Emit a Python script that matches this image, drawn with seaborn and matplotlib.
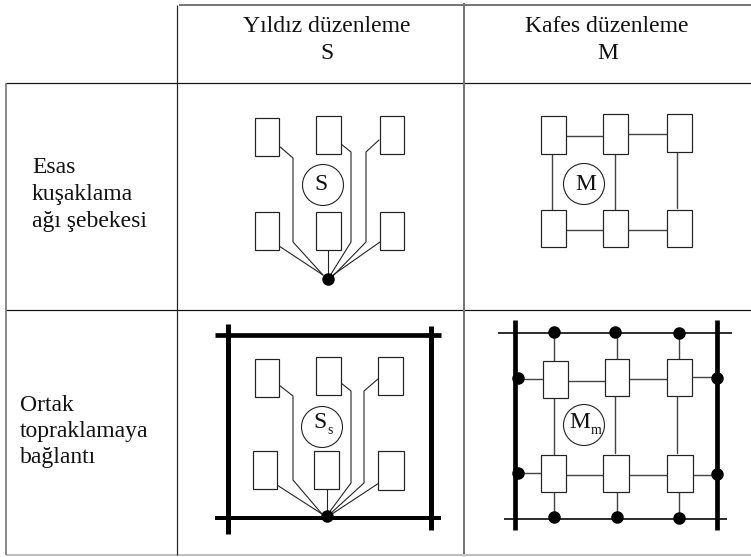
import matplotlib
matplotlib.use("Agg")
import matplotlib.pyplot as plt
from matplotlib.patches import Circle, Rectangle
import pandas as pd
import seaborn as sns

# =========================================================
# TABLE TEXT (text, x, baseline y)
# =========================================================

header_labels = [("Yıldız düzenleme", 327, 32), ("S", 327, 59),
                 ("Kafes düzenleme", 607, 32), ("M", 608, 59)]
row_labels = [("Esas", 32, 173), ("kuşaklama", 32, 200), ("ağı şebekesi", 32, 227),
              ("Ortak", 20, 411), ("topraklamaya", 20, 437), ("bağlantı", 20, 463)]

# table rules: x0, y0, x1, y1, colour, width px
table_rules = [
    (179, 5, 751, 5, "#777777", 2),
    (6, 83, 751, 83, "#111111", 1.2),
    (6, 310, 751, 310, "#111111", 1.2),
    (6, 555, 751, 555, "#aaaaaa", 1.5),
    (6, 83, 6, 555, "#666666", 1.5),
    (177, 5, 177, 555, "#222222", 1.2),
    (464, 3, 464, 554, "#777777", 2),
]

# =========================================================
# BOXES (x0, x1, y0, y1)
# =========================================================

boxes_s = [(255, 279, 118, 156), (316, 341, 116, 154), (380, 404, 116, 154),
           (255, 279, 212, 250), (316, 341, 212, 250), (380, 404, 212, 250)]
boxes_m = [(541, 566, 116, 154), (603, 628, 114, 154), (667, 692, 114, 152),
           (541, 566, 210, 247), (603, 628, 210, 247), (667, 692, 210, 247)]
boxes_ss = [(255, 279, 359, 397), (316, 341, 357, 395), (378, 403, 357, 395),
            (253, 277, 451, 489), (314, 339, 451, 489), (378, 404, 451, 490)]
boxes_mm = [(543, 568, 361, 398), (605, 629, 359, 396), (667, 692, 359, 396),
            (541, 566, 455, 492), (603, 629, 455, 492), (667, 693, 455, 492)]

# =========================================================
# WIRES (polylines)
# =========================================================

wires_s = [
    [(279, 146), (293, 158), (293, 242), (323, 275)],
    [(341, 144), (351, 152), (351, 242), (328, 279)],
    [(379, 140), (366, 152), (366, 242), (330, 279)],
    [(279, 246), (323, 275)],
    [(328, 248), (328, 279)],
    [(380, 242), (333, 275)],
]
wires_m = [
    [(566, 136), (605, 136)], [(628, 134), (667, 134)],
    [(552, 154), (552, 210)], [(615, 154), (615, 210)], [(677, 152), (677, 208)],
    [(564, 230), (603, 230)], [(628, 230), (667, 230)],
]
wires_ss = [
    [(279, 385), (293, 396), (293, 480), (322, 514)],
    [(341, 383), (351, 391), (351, 483), (328, 514)],
    [(378, 379), (364, 391), (364, 483), (330, 514)],
    [(277, 485), (322, 514)],
    [(327, 489), (327, 514)],
    [(379, 483), (332, 514)],
]
wires_mm = [
    [(554, 333), (554, 361)], [(617, 333), (617, 359)], [(679, 333), (679, 359)],
    [(518, 379), (542, 379)], [(568, 381), (605, 381)], [(629, 379), (667, 379)], [(693, 377), (717, 377)],
    [(554, 398), (554, 455)], [(615, 396), (615, 453)], [(677, 396), (677, 453)],
    [(518, 473), (541, 473)], [(566, 475), (605, 475)], [(629, 475), (669, 475)], [(693, 475), (717, 475)],
    [(554, 492), (554, 517)], [(617, 492), (617, 517)], [(679, 492), (679, 517)],
]

# =========================================================
# EARTH BARS (x0, y0, x1, y1, width px)
# =========================================================

bars_ss = [(215, 335, 441, 335, 4.7), (215, 518, 441, 518, 4), (228, 324, 228, 534, 5), (431, 326, 431, 530, 5)]
bars_mm = [(498, 333, 732, 333, 1.6), (504, 519, 727, 519, 1.6), (515, 320, 515, 530, 4.7), (717, 320, 717, 530, 4.7)]

# =========================================================
# JUNCTION DOTS AND CIRCLES
# =========================================================

dots_x = [328, 327, 554, 615, 679, 518, 518, 717, 717, 554, 617, 679]
dots_y = [279, 516, 332, 332, 333, 378, 473, 378, 474, 517, 517, 518]

circles = [(323, 185), (584, 184), (322, 427), (584, 425)]

# letter, x, y, font size
circle_labels = [("S", 321, 185, 17), ("M", 586, 184, 17), ("S", 320, 423, 17), ("s", 330, 431, 10),
                 ("M", 580, 423, 17), ("m", 596, 430, 10)]

# =========================================================
# FIGURE
# =========================================================

sns.set_theme(style="white")
plt.rcParams["font.family"] = ["Liberation Serif", "DejaVu Serif"]

px = 72 / 100
fig, ax = plt.subplots(figsize=(7.51, 5.57), dpi=100)
ax.set_position([0, 0, 1, 1])

# wires go through seaborn as polylines with one unit per wire
rows = []
for group, wires in [("plain", wires_s + wires_ss), ("grid", wires_m + wires_mm)]:
    for i, wire in enumerate(wires):
        for order, (x, y) in enumerate(wire):
            rows.append({"wire": f"{group}{i}", "group": group, "order": order, "x": x, "y": y})
wire_df = pd.DataFrame(rows)

sns.lineplot(data=wire_df[wire_df["group"] == "plain"], x="x", y="y", units="wire", estimator=None, sort=False,
             color="#222222", linewidth=1.1 * px, ax=ax, zorder=2)
sns.lineplot(data=wire_df[wire_df["group"] == "grid"], x="x", y="y", units="wire", estimator=None, sort=False,
             color="#444444", linewidth=1.4 * px, ax=ax, zorder=2)

for x0, y0, x1, y1, c, w in table_rules:
    ax.plot([x0, x1], [y0, y1], color=c, lw=w * px, solid_capstyle="butt", zorder=1)

for x0, y0, x1, y1, w in bars_ss + bars_mm:
    ax.plot([x0, x1], [y0, y1], color="black", lw=w * px, solid_capstyle="butt", zorder=3)

for x0, x1, y0, y1 in boxes_s + boxes_m + boxes_ss + boxes_mm:
    ax.add_patch(Rectangle((x0, y0), x1 - x0, y1 - y0, fc="white", ec="#222222", lw=1.2 * px, zorder=4))

sns.scatterplot(x=dots_x, y=dots_y, s=(12.5 * px) ** 2, color="black", linewidth=0, ax=ax, zorder=5)

for cx, cy in circles:
    ax.add_patch(Circle((cx, cy), 20.5, fc="white", ec="#222222", lw=1.1 * px, zorder=4))

for text, x, y, size in circle_labels:
    ax.text(x, y, text, fontsize=size, ha="center", va="center", color="#111111", zorder=6)

for text, x, y in header_labels:
    ax.text(x, y, text, fontsize=17, ha="center", va="baseline", color="#111111")
for text, x, y in row_labels:
    ax.text(x, y, text, fontsize=17, ha="left", va="baseline", color="#111111")

ax.set_xlim(0, 751)
ax.set_ylim(557, 0)
ax.set_xlabel("")
ax.set_ylabel("")
ax.axis("off")

fig.savefig("out.png", dpi=100)
